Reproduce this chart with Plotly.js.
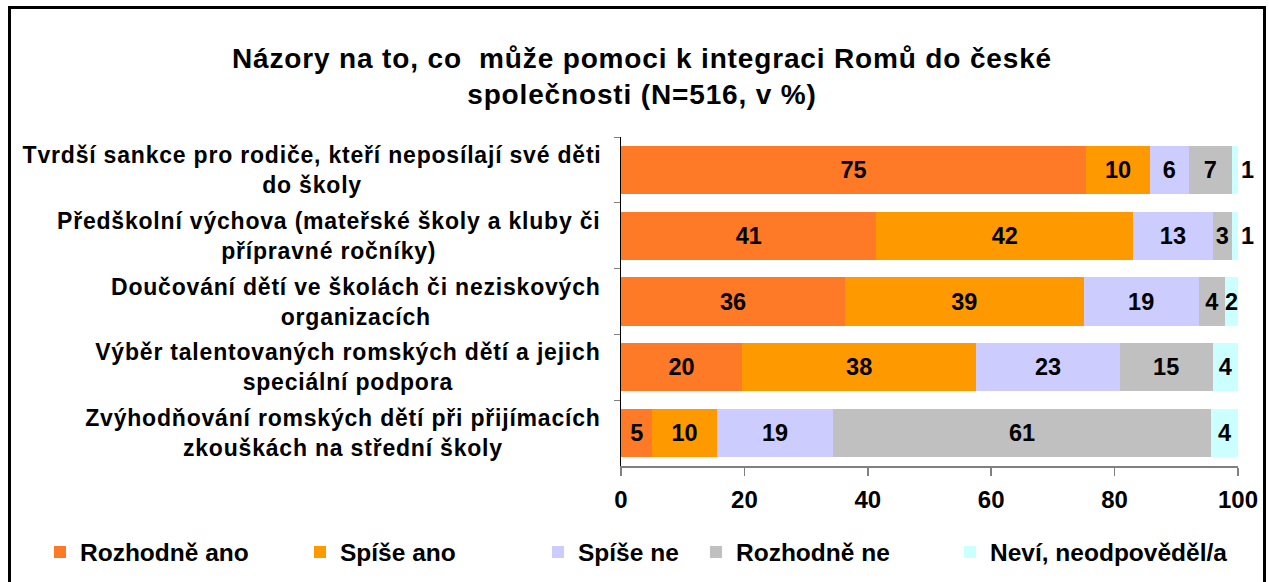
<!DOCTYPE html>
<html><head><meta charset="utf-8">
<script src="https://cdn.plot.ly/plotly-3.0.1.min.js"></script>
<style>
html,body{margin:0;padding:0;background:#fff;overflow:hidden;}
#frame{position:absolute;left:8px;top:6px;width:1258px;height:620px;border:3px solid #000;box-sizing:border-box;}
#chart{position:absolute;left:0;top:0;width:1269px;height:582px;}
#chart .annotation-text{letter-spacing:0.8px;}
#chart .gtitle{letter-spacing:0.85px;}
</style></head>
<body><div id="frame"></div><div id="chart"></div>
<script>
const categories = [
  'Tvrdší sankce pro rodiče, kteří neposílají své děti<br>do školy',
  'Předškolní výchova (mateřské školy a kluby či<br>přípravné ročníky)',
  'Doučování dětí ve školách či neziskových<br>organizacích',
  'Výběr talentovaných romských dětí a jejich<br>speciální podpora',
  'Zvýhodňování romských dětí při přijímacích<br>zkouškách na střední školy'
];
const seriesNames = ['Rozhodně ano', 'Spíše ano', 'Spíše ne', 'Rozhodně ne', 'Neví, neodpověděl/a'];
const rozhodneAno = [75.4, 41.4, 36.3, 19.6, 5.1];
const spiseAno    = [10.3, 41.6, 38.7, 38.0, 10.4];
const spiseNe     = [6.3, 12.9, 18.6, 23.2, 18.9];
const rozhodneNe  = [7.0, 3.1, 4.3, 15.1, 61.2];
const nevi        = [1.0, 1.0, 2.1, 4.1, 4.4];
const xTicks = [0, 20, 40, 60, 80, 100];
const titleText = 'Názory na to, co\u00a0 může pomoci k integraci Romů do české<br>společnosti (N=516, v %)';

const FONT = '"Liberation Sans", Arial, sans-serif';
const LETTER_SP = 0.8;
const colors = ['#FF7A26', '#FF9900', '#CCCCFF', '#C0C0C0', '#CCFFFF'];
const series = [rozhodneAno, spiseAno, spiseNe, rozhodneNe, nevi];
const legendIds = ['legend', 'legend2', 'legend3', 'legend4', 'legend5'];
const legendTextX = [80, 340, 578, 736, 990];

const traces = series.map((vals, i) => {
  const t = {
    type: 'bar', orientation: 'h', name: seriesNames[i],
    y: categories, x: vals,
    marker: {color: colors[i], line: {width: 0}},
    texttemplate: '%{x:.0f}',
    textposition: 'inside', insidetextanchor: 'middle',
    constraintext: 'none',
    textfont: {family: FONT, size: 23.5, weight: 'bold', color: '#000'},
    hoverinfo: 'skip',
    legend: legendIds[i]
  };
  if (i === 4) {
    t.textposition = ['outside', 'outside', 'inside', 'inside', 'inside'];
    t.outsidetextfont = {family: FONT, size: 23.5, weight: 'bold', color: '#000'};
    t.cliponaxis = false;
  }
  return t;
});

const layout = {
  width: 1269, height: 582,
  paper_bgcolor: 'rgba(0,0,0,0)', plot_bgcolor: 'rgba(0,0,0,0)',
  margin: {l: 621, r: 31, t: 137, b: 116},
  barmode: 'stack', bargap: 0.27,
  showlegend: true,
  title: {
    text: titleText, x: 642 / 1269, xanchor: 'center', xref: 'container',
    y: 1 - 68 / 582, yanchor: 'top', yref: 'container',
    font: {family: FONT, size: 28, weight: 'bold', color: '#000'}
  },
  xaxis: {
    range: [0, 100], tickvals: xTicks, ticktext: xTicks.map(String),
    ticks: 'outside', ticklen: 8, tickwidth: 1.5, tickcolor: '#808080',
    showline: true, linecolor: '#808080', linewidth: 2,
    showgrid: false, zeroline: false, ticklabelstandoff: 3,
    tickfont: {family: FONT, size: 24, weight: 'bold', color: '#000'}
  },
  yaxis: {
    type: 'category', autorange: 'reversed',
    showline: true, linecolor: '#000', linewidth: 1.5,
    ticks: 'outside', tickson: 'boundaries', ticklen: 6, tickcolor: '#808080',
    showticklabels: false, showgrid: false, zeroline: false
  },
  annotations: categories.map((c, i) => {
    const longest = Math.max(...c.split('<br>').map(s => s.length));
    return {
      xref: 'paper', yref: 'y', x: 0, y: i, xanchor: 'right', yanchor: 'middle',
      xshift: -18 - longest * LETTER_SP / 2, align: 'center', showarrow: false, text: c,
      font: {family: FONT, size: 23, weight: 'bold', color: '#000'}
    };
  })
};
legendIds.forEach((id, i) => {
  layout[id] = {
    x: (legendTextX[i] - 40) / 1269, xref: 'container', xanchor: 'left',
    y: 1 - 552 / 582, yref: 'container', yanchor: 'middle',
    orientation: 'h', bgcolor: 'rgba(0,0,0,0)', borderwidth: 0,
    font: {family: FONT, size: 24.5, weight: 'bold', color: '#000'}
  };
});

Plotly.newPlot('chart', traces, layout, {staticPlot: true, displayModeBar: false});
</script>
</body></html>
